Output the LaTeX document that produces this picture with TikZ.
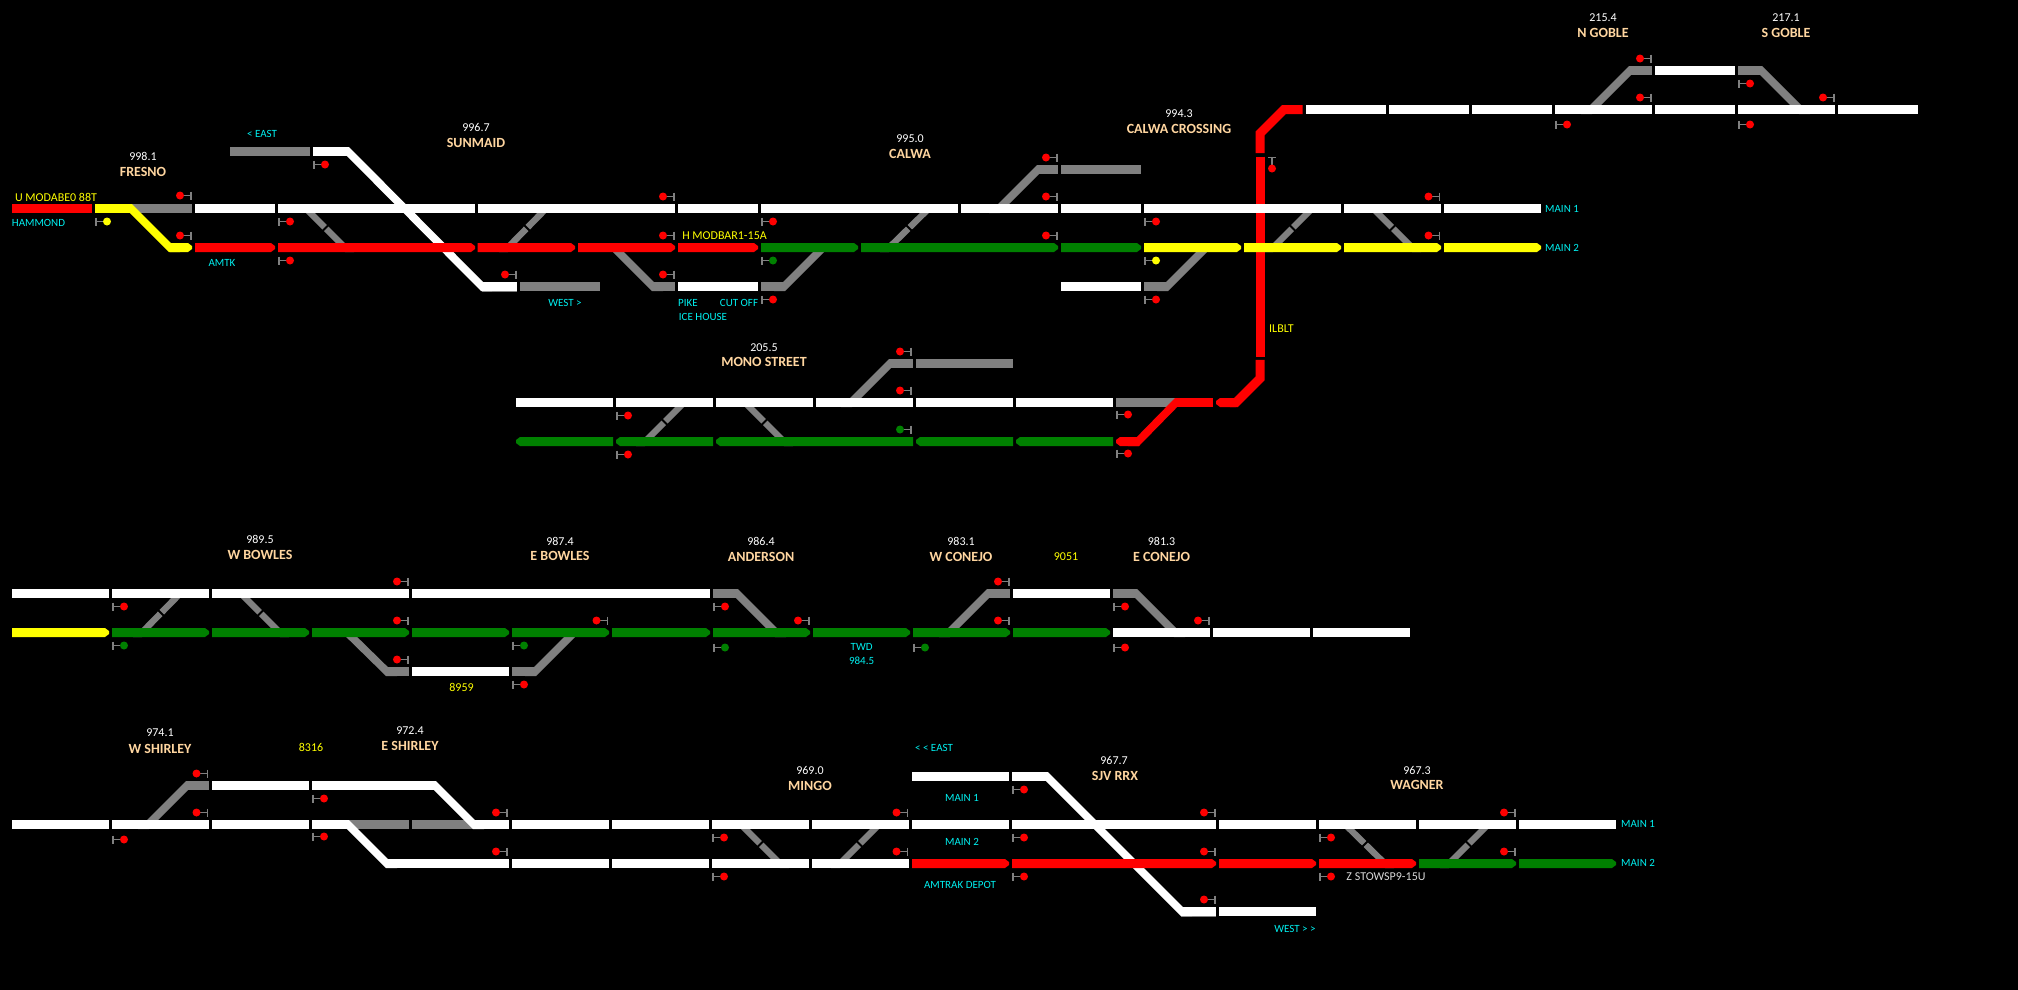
\documentclass[tikz,border=0pt]{standalone}
\usepackage{fontspec}
\setmainfont{Carlito}
\definecolor{sigred}{RGB}{255, 0, 0}
\definecolor{siggreen}{RGB}{0, 128, 0}
\definecolor{sigyellow}{RGB}{255, 255, 0}
\definecolor{deadgray}{RGB}{128, 128, 128}
\definecolor{notecyan}{RGB}{0, 240, 240}
\definecolor{stnpeach}{RGB}{255, 214, 160}
\usetikzlibrary{calc}
\newcommand{\ramp}[6][11]{\fill[#6] ({#2-(#4-#2)/abs(#4-#2)*4.5-#1/2},{#3-(#5-#3)/abs(#5-#3)*4.5}) -- ++(#1,0) -- ({#4+(#4-#2)/abs(#4-#2)*4.5+#1/2},{#5+(#5-#3)/abs(#5-#3)*4.5}) -- ++(-#1,0) -- cycle;}
\newcommand{\xover}[4]{\ramp[9]{#1}{#2}{#3}{#4}{deadgray}
    \draw[black,line width=2pt] ($({(#1+#3)/2},{(#2+#4)/2})!7pt!90:(#3,#4)$) -- ($({(#1+#3)/2},{(#2+#4)/2})!7pt!-90:(#3,#4)$);}
\newcommand{\tipr}[4]{\fill[#4] (#1,#3-4.5) -- (#2-4,#3-4.5) -- (#2,#3-1.5) -- (#2,#3+1.5) -- (#2-4,#3+4.5) -- (#1,#3+4.5) -- cycle;}
\newcommand{\tipl}[4]{\fill[#4] (#2,#3-4.5) -- (#1+4,#3-4.5) -- (#1,#3-1.5) -- (#1,#3+1.5) -- (#1+4,#3+4.5) -- (#2,#3+4.5) -- cycle;}
\newcommand{\sigl}[3]{\draw[sigpost] (#1,#2-4) -- (#1,#2+4) (#1,#2) -- (#1-11,#2); \fill[#3] (#1-11,#2) circle (4);}
\newcommand{\sigr}[3]{\draw[sigpost] (#1,#2-4) -- (#1,#2+4) (#1,#2) -- (#1+11,#2); \fill[#3] (#1+11,#2) circle (4);}

\begin{document}
\begin{tikzpicture}[
    x=1pt,y=-1pt,
    track/.style={line width=9pt},
    sigpost/.style={deadgray,line width=1.8pt},
    mile/.style={inner sep=0pt,text=white,font=\fontsize{12}{14}\selectfont},
    stn/.style={inner sep=0pt,text=stnpeach,font=\fontsize{14}{16}\selectfont\bfseries},
    note/.style={inner sep=0pt,text=notecyan,font=\fontsize{11}{13}\selectfont},
    tag/.style={inner sep=0pt,text=sigyellow,font=\fontsize{12}{13}\selectfont}
]
    \useasboundingbox (0,0) rectangle (2018,989);
    \fill[black] (-5,-5) rectangle (2023,994);

    \begin{scope}[yshift=-0.5pt]
    % gray crossovers and sidings first
    \foreach \xa/\ya/\xb/\yb in {306/208/345/247,508/247/546/208,889/247/929/208,1273/247/1312/208,1373/208/1412/247,
        645/441/684/402,745/402/784/441,142/632/180/593,241/593/280/632,
        741/824/780/863,840/863/879/824,1345/824/1385/863,1449/863/1488/824} {
        \xover{\xa}{\ya}{\xb}{\yb}
    }
    \foreach \xa/\ya/\xb/\yb in {614/247/653/286,784/286/823/247,999/208/1038/169,1167/286/1206/247,
        1591/109/1630/70,1761/70/1800/109,851/402/890/363,737/593/776/632,988/593/949/632,
        1136/593/1175/632,347/632/387/671,535/671/574/632,148/824/187/785} {
        \ramp{\xa}{\ya}{\xb}{\yb}{deadgray}
    }
    \foreach \xa/\xb/\yy in {131/192/208,230/310/151,520/600/286,653/675/286,761/785/286,1037/1058/169,1061/1141/169,
        1144/1168/286,1630/1652/70,1738/1762/70,889/913/363,916/1013/363,1116/1177/402,
        713/737/593,987/1010/593,1113/1137/593,388/409/671,512/536/671,186/209/785,348/409/824,412/474/824} {
        \draw[track,deadgray] (\xa,\yy) -- (\xb,\yy);
    }
    \draw[deadgray,line width=1pt] (482,291) -- (517,291) (1181,906.5) -- (1216,906.5) (1181,915.5) -- (1216,915.5);

    % coloured ramps
    \ramp{131}{208}{170}{247}{sigyellow}
    \ramp{348}{151}{482}{286}{white}
    \ramp{1138}{441}{1176}{402}{sigred}
    \ramp{435}{785}{474}{824}{white}
    \ramp{348}{824}{387}{863}{white}
    \ramp{1047}{776}{1182}{911}{white}

    % red vertical main
    \draw[line width=9pt,sigred,line join=miter] (1260,152.7) -- (1260,133) -- (1284,109) -- (1302.5,109);
    \draw[line width=9pt,sigred,line join=miter] (1260,359.3) -- (1260,378) -- (1236,402) -- (1230,402);
    \draw[line width=9pt,sigred] (1260,156) -- (1260,356);

    % white blocks
    \foreach \xa/\xb/\yy in {
        195/275/208,278/475/208,477.5/675/208,678/758/208,761/958/208,961/1058/208,1061/1141/208,1144/1341/208,1344/1441/208,1444/1541/208,
        313/348/151,482/517/286,678/758/286,1061/1141/286,
        1306/1386/109,1389/1469/109,1472/1552/109,1555/1652/109,1655/1735/109,1738/1835/109,1838/1918/109,1655/1735/70,
        516/613/402,616/713/402,716/813/402,816/913/402,916/1013/402,1016/1113/402,
        12/109/593,112/209/593,212/409/593,412/710/593,1013/1110/593,412/509/671,1113/1210/632,1213/1310/632,1313/1410/632,
        12/109/824,112/209/824,212/309/824,312/348/824,473/509/824,512/609/824,612/709/824,712/809/824,812/909/824,912/1009/824,1012/1216/824,1219/1316/824,1319/1416/824,1419/1516/824,1519/1616/824,
        212/309/785,312/436/785,387/509/863,512/609/863,612/709/863,712/809/863,812/909/863,
        912/1009/776,1012/1048/776,1181/1216/911,1219/1316/911} {
        \draw[track,white] (\xa,\yy) -- (\xb,\yy);
    }

    % occupied and lined blocks
    \draw[track,sigred] (12,208) -- (92,208);
    \draw[track,sigyellow] (95,208) -- (131,208);
    \draw[track,sigred] (1176,402) -- (1213,402);
    \tipr{170}{192}{247}{sigyellow}
    \foreach \xa/\xb/\yy in {195/275/247,278/475/247,477.5/575/247,578/675/247,678/758/247,912/1009/863,1012/1216/863,1219/1316/863,1319/1416/863} {
        \tipr{\xa}{\xb}{\yy}{sigred}
    }
    \foreach \xa/\xb/\yy in {761/858/247,861/1058/247,1061/1141/247,112/209/632,212/309/632,312/409/632,412/509/632,512/609/632,612/710/632,713/810/632,813/910/632,913/1010/632,1013/1110/632,1419/1516/863,1519/1616/863} {
        \tipr{\xa}{\xb}{\yy}{siggreen}
    }
    \foreach \xa/\xb/\yy in {1144/1241/247,1244/1341/247,1344/1441/247,1444/1541/247,12/109/632} {
        \tipr{\xa}{\xb}{\yy}{sigyellow}
    }
    \foreach \xa/\xb/\yy in {516/613/441,616/713/441,716/913/441,916/1013/441,1016/1113/441} {
        \tipl{\xa}{\xb}{\yy}{siggreen}
    }
    \tipl{1116}{1139}{441}{sigred}
    \tipl{1216}{1236}{402}{sigred}

    % signals
    \foreach \xx/\yy in {191/195,191/235,516/274,674/196,674/235,674/274,1057/157,1057/196,1057/235,1439.5/196,1439.5/235,
        1651/58,1651/97,1834/97,911/351,911/390,408/581,408/620,408/659,607.5/620,809/620,1009/581,1009/620,1209/620,
        207.5/773,207.5/812,507/812,507/851,907.5/812,907.5/851,1215/812,1215/851,1215/899,1515/812,1515/851} {
        \sigl{\xx}{\yy}{sigred}
    }
    \sigl{911}{429}{siggreen}
    \foreach \xx/\yy in {279/221,279/260,314/164,762/221,762/299,1145/221,1145/299,1556/124,1739/83,1739/124,617/415,617/454,1117/414,1117/453,
        113/606,513/684,714/606,1114/606,1114/647,113/839,313/798,313/836,713/837,713/876,1013/789,1013/837,1013/876,1320/837,1320/876} {
        \sigr{\xx}{\yy}{sigred}
    }
    \foreach \xx/\yy in {762/260,113/645,513/645,714/647,914/647} {
        \sigr{\xx}{\yy}{siggreen}
    }
    \sigr{96}{221}{sigyellow}
    \sigr{1145}{260}{sigyellow}
    \draw[sigpost] (1268,157) -- (1276,157) (1272,157) -- (1272,168);
    \fill[sigred] (1272,168) circle (4);
    \end{scope}

    % labels
    \node[mile] (mfresno) at (143,156) {998.1};
    \node[stn] (fresno) at (143,172) {FRESNO};
    \node[mile] (msunmaid) at (476,127) {996.7};
    \node[stn] (sunmaid) at (476,143) {SUNMAID};
    \node[mile] (mcalwa) at (910,139) {995.0};
    \node[stn] (calwa) at (910,154) {CALWA};
    \node[mile] (mcrossing) at (1179,114) {994.3};
    \node[stn] (crossing) at (1179,129) {CALWA CROSSING};
    \node[mile] (mngoble) at (1603,18) {215.4};
    \node[stn] (ngoble) at (1603,33) {N GOBLE};
    \node[mile] (msgoble) at (1786,18) {217.1};
    \node[stn] (sgoble) at (1786,33) {S GOBLE};
    \node[mile] (mmono) at (764,348) {205.5};
    \node[stn] (mono) at (764,362) {MONO STREET};
    \node[mile] (mwbowles) at (260,539) {989.5};
    \node[stn] (wbowles) at (260,555) {W BOWLES};
    \node[mile] (mebowles) at (560,541) {987.4};
    \node[stn] (ebowles) at (560,556) {E BOWLES};
    \node[mile] (manderson) at (761,541) {986.4};
    \node[stn] (anderson) at (761,557) {ANDERSON};
    \node[mile] (mwconejo) at (961,541) {983.1};
    \node[stn] (wconejo) at (961,557) {W CONEJO};
    \node[mile] (meconejo) at (1161.5,541) {981.3};
    \node[stn] (econejo) at (1161.5,557) {E CONEJO};
    \node[mile] (mwshirley) at (160,733) {974.1};
    \node[stn] (wshirley) at (160,749) {W SHIRLEY};
    \node[mile] (meshirley) at (410,731) {972.4};
    \node[stn] (eshirley) at (410,746) {E SHIRLEY};
    \node[mile] (mmingo) at (810,770) {969.0};
    \node[stn] (mingo) at (810,786) {MINGO};
    \node[mile] (msjv) at (1114,760) {967.7};
    \node[stn] (sjv) at (1115,776) {SJV RRX};
    \node[mile] (mwagner) at (1417,770) {967.3};
    \node[stn] (wagner) at (1417,785) {WAGNER};

    \node[note] (east1) at (262,134) {< EAST};
    \node[note] (hammond) at (38.5,223) {HAMMOND};
    \node[note] (amtk) at (222,263) {AMTK};
    \node[note] (west1) at (565,303) {WEST >};
    \node[note] (pike) at (688,303) {PIKE};
    \node[note] (cutoff) at (739,303) {CUT OFF};
    \node[note] (icehouse) at (703,317) {ICE HOUSE};
    \node[note,anchor=west] (maina) at (1545,209) {MAIN 1};
    \node[note,anchor=west] (mainb) at (1545,248) {MAIN 2};
    \node[note] (twd) at (861.6,647) {TWD};
    \node[note] (twdmile) at (861.6,661) {984.5};
    \node[note] (east2) at (934,748) {< < EAST};
    \node[note] (mainc) at (962,798) {MAIN 1};
    \node[note] (maind) at (962,842) {MAIN 2};
    \node[note] (depot) at (960,885) {AMTRAK DEPOT};
    \node[note] (west2) at (1295,929) {WEST > >};
    \node[note,anchor=west] (maine) at (1621,824) {MAIN 1};
    \node[note,anchor=west] (mainf) at (1621,863) {MAIN 2};

    \node[tag] (modabe) at (56,197) {U MODABE0 88T};
    \node[tag] (modbar) at (724.5,236) {H MODBAR1-15A};
    \node[tag] (ilblt) at (1281.5,329) {ILBLT};
    \node[tag] (tageight) at (461.5,687) {8959};
    \node[tag] (tagnine) at (1066,557) {9051};
    \node[tag] (tagshirley) at (311,747) {8316};
    \node[mile,text=white!85!black] (stowsp) at (1386,877) {Z STOWSP9-15U};
\end{tikzpicture}
\end{document}
